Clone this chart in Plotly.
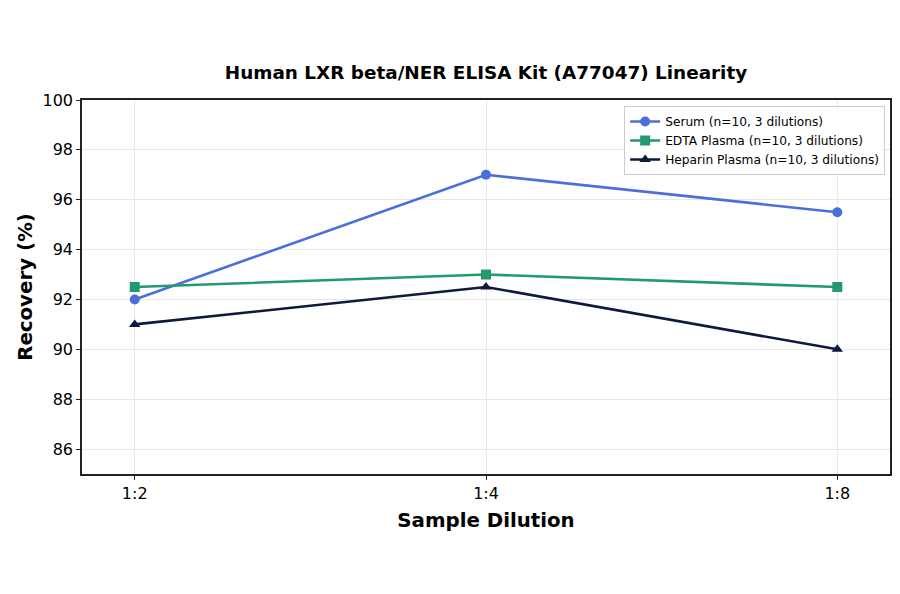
import plotly.graph_objects as go

dilutions = ["1:2", "1:4", "1:8"]
serum = [92.0, 97.0, 95.5]
edta = [92.5, 93.0, 92.5]
heparin = [91.0, 92.5, 90.0]

series = [
    ("Serum (n=10, 3 dilutions)", serum, "#4a6fdc", "circle"),
    ("EDTA Plasma (n=10, 3 dilutions)", edta, "#22996e", "square"),
    ("Heparin Plasma (n=10, 3 dilutions)", heparin, "#0e1a3d", "triangle-up"),
]

fig = go.Figure()
for name, vals, color, sym in series:
    fig.add_trace(go.Scatter(
        x=[0, 1, 2], y=vals, mode="lines+markers", name=name,
        line=dict(color=color, width=2.6),
        marker=dict(symbol=sym, size=10, color=color),
    ))

fig.update_layout(
    width=900, height=594,
    paper_bgcolor="white", plot_bgcolor="white",
    font=dict(family="DejaVu Sans", color="black"),
    margin=dict(l=74, r=18, t=92, b=128),
    title=dict(text="<b>Human LXR beta/NER ELISA Kit (A77047) Linearity</b>",
               x=(486 - 8) / 900, xanchor="center", y=1 - 65 / 594, yanchor="middle",
               font=dict(size=18.4)),
    legend=dict(x=0.994, y=0.984, xanchor="right", yanchor="top",
                bgcolor="rgba(255,255,255,0.9)", bordercolor="#cccccc", borderwidth=1,
                font=dict(size=12.2), tracegroupgap=0),
    showlegend=True,
)
fig.update_xaxes(
    range=[-0.15, 2.15], tickmode="array", tickvals=[0, 1, 2], ticktext=dilutions,
    showgrid=True, gridcolor="#e8e8e8", gridwidth=1,
    showline=True, linecolor="#222222", linewidth=1.5, mirror=True,
    ticks="outside", ticklen=4, tickcolor="#222222", tickfont=dict(size=16),
    title=dict(text="<b>Sample Dilution</b>", font=dict(size=19.8), standoff=11),
    zeroline=False,
)
fig.update_yaxes(
    range=[85, 100], tickvals=[86, 88, 90, 92, 94, 96, 98, 100],
    showgrid=True, gridcolor="#e8e8e8", gridwidth=1,
    showline=True, linecolor="#222222", linewidth=1.5, mirror=True,
    ticks="outside", ticklen=4, tickcolor="#222222", tickfont=dict(size=16),
    title=dict(text="<b>Recovery (%)</b>", font=dict(size=19.8), standoff=5),
    zeroline=False,
)

fig.write_html("out.html")
